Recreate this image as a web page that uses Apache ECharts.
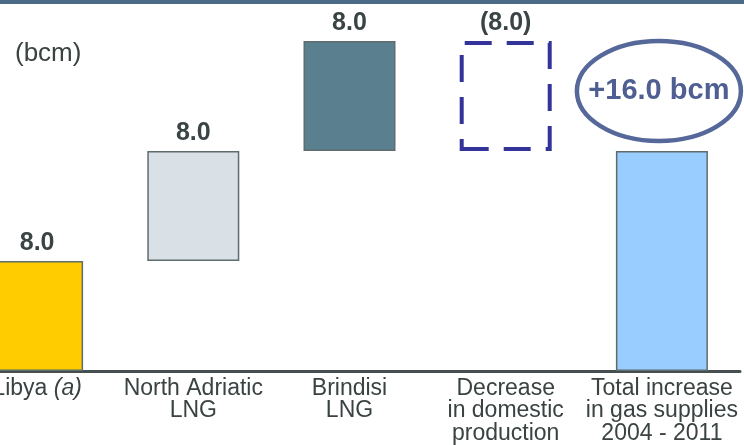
<!DOCTYPE html>
<html>
<head>
<meta charset="utf-8">
<style>
  html, body { margin: 0; padding: 0; background: #ffffff; overflow: hidden; }
  /* the plot runs off the left edge of the page, so the first column is clipped */
  #chart { width: 785px; height: 445px; margin-left: -41px; }
</style>
<script src="https://cdn.jsdelivr.net/npm/echarts@6/dist/echarts.min.js"></script>
</head>
<body>
<div id="chart"></div>
<script>
// Gas supply bridge 2004 - 2011, in bcm
const categories = [
  'Libya {i|(a)}',
  'North Adriatic\nLNG',
  'Brindisi\nLNG',
  'Decrease\nin domestic\nproduction',
  'Total increase\nin gas supplies\n2004 - 2011'
];
const changes = [8.0, 8.0, 8.0, -8.0];           // step contributions
const totalIncrease = 16.0;                      // closing total bar
const stepColors = ['#ffcc00', '#d9e0e6', '#5a7f8e', 'rgba(0,0,0,0)'];
const totalColor = '#99ccff';

const OFFSET = 41; // horizontal shift of the chart canvas

// Build floating (base + height) pairs for the waterfall
const baseData = [];
const barData = [];
let running = 0;
changes.forEach((v, i) => {
  const start = running;
  const end = running + v;
  baseData.push(Math.min(start, end));
  barData.push({
    value: Math.abs(v),
    raw: v,
    itemStyle: v < 0
      ? { color: 'rgba(0,0,0,0)', borderColor: '#333399', borderWidth: 4, borderType: [27, 15] }
      : { color: stepColors[i], borderColor: '#5f6c6e', borderWidth: 1.5 }
  });
  running = end;
});
baseData.push(0);
barData.push({
  value: totalIncrease,
  raw: totalIncrease,
  isTotal: true,
  itemStyle: { color: totalColor, borderColor: '#5f6c6e', borderWidth: 1.5 }
});

const fmt = v => v < 0 ? '(' + Math.abs(v).toFixed(1) + ')' : v.toFixed(1);
const FONT = 'Liberation Sans, Arial, sans-serif';

const chart = echarts.init(document.getElementById('chart'), null, { renderer: 'canvas' });
chart.setOption({
  animation: false,
  grid: { left: 0, right: 4, top: 41, bottom: 74, containLabel: false },
  xAxis: {
    type: 'category',
    data: categories,
    axisTick: { show: false },
    axisLine: { lineStyle: { color: '#454f50', width: 3 } },
    axisLabel: {
      interval: 0,
      margin: 6,
      color: '#3a4242',
      fontFamily: FONT,
      fontSize: 23,
      lineHeight: 22.5,
      rich: { i: { fontStyle: 'italic', fontSize: 23, color: '#3a4242', fontFamily: FONT } }
    }
  },
  yAxis: { type: 'value', min: 0, max: 24, show: false, splitLine: { show: false } },
  series: [
    {
      type: 'bar',
      stack: 'w',
      barWidth: 92,
      silent: true,
      itemStyle: { color: 'rgba(0,0,0,0)' },
      data: baseData
    },
    {
      type: 'bar',
      stack: 'w',
      barWidth: 92,
      data: barData,
      label: {
        show: true,
        position: 'top',
        distance: 5,
        color: '#3a4444',
        fontFamily: FONT,
        fontWeight: 'bold',
        fontSize: 25,
        formatter: p => p.data.isTotal ? '' : fmt(p.data.raw)
      }
    }
  ]
});

// Highlight ring with the total above the closing bar
const totalTop = chart.convertToPixel({ xAxisIndex: 0, yAxisIndex: 0 }, [4, totalIncrease]);
const ringX = totalTop[0] - 3;
const ringY = totalTop[1] - 60;
chart.setOption({
  graphic: [
    { type: 'rect', left: 0, top: 0, shape: { width: 785, height: 4 }, style: { fill: '#4d6a88' } },
    { type: 'text', left: 15 + OFFSET, top: 41, style: { text: '(bcm)', fill: '#3a4242', font: '26px "Liberation Sans", Arial, sans-serif' } },
    { type: 'ellipse', shape: { cx: ringX, cy: ringY, rx: 82, ry: 50 }, style: { fill: 'none', stroke: '#56689a', lineWidth: 4.5 } },
    { type: 'text', x: ringX, y: ringY, style: { text: '+' + totalIncrease.toFixed(1) + ' bcm', fill: '#4f5f92', align: 'center', verticalAlign: 'middle', font: 'bold 29px "Liberation Sans", Arial, sans-serif' } }
  ]
});
</script>
</body>
</html>
